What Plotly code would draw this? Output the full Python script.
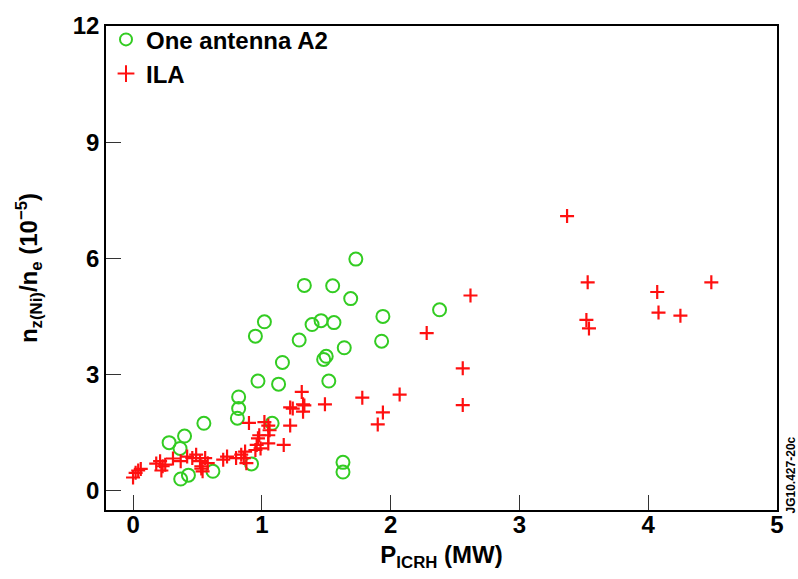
import plotly.graph_objects as go

a2_x = [1.73, 1.33, 1.55, 1.69, 1.94, 1.02, 1.46, 1.39, 1.56, 0.95, 1.29, 1.93, 1.64,
        1.50, 1.48, 1.16, 0.97, 1.13, 1.52, 0.82, 0.82, 2.38, 0.81, 0.55, 1.08, 0.40,
        0.28, 0.365, 0.92, 0.62, 0.43, 0.37, 1.63, 1.63]
a2_y = [5.98, 5.30, 5.29, 4.96, 4.50, 4.36, 4.39, 4.29, 4.34, 3.99, 3.89, 3.86, 3.69,
        3.47, 3.39, 3.31, 2.83, 2.75, 2.83, 2.42, 2.12, 4.67, 1.87, 1.74, 1.74, 1.41,
        1.24, 1.09, 0.69, 0.50, 0.40, 0.30, 0.73, 0.48]

ila_x = [0.00, 0.02, 0.04, 0.06, 0.18, 0.21, 0.23, 0.22, 0.25, 0.31, 0.37, 0.42, 0.46,
         0.49, 0.52, 0.53, 0.54, 0.56, 0.58, 0.53, 0.70, 0.73, 0.80, 0.84, 0.87, 0.86,
         0.88, 0.95, 0.96, 0.97, 0.98, 0.99, 1.05, 1.05, 1.06, 1.02, 1.05, 0.90, 1.17,
         1.22, 1.22, 1.24, 1.32, 1.32, 1.33, 1.31, 1.49, 1.78, 1.94, 1.90, 2.07, 2.28,
         2.62, 2.56, 2.56, 3.37, 3.53, 3.52, 3.54, 4.07, 4.08, 4.25, 4.49]
ila_y = [0.34, 0.46, 0.52, 0.56, 0.70, 0.76, 0.63, 0.52, 0.67, 0.83, 0.76, 0.88, 0.84,
         0.93, 0.76, 0.63, 0.50, 0.84, 0.71, 0.57, 0.80, 0.88, 0.84, 0.93, 1.01, 0.84,
         0.71, 1.05, 1.18, 1.35, 1.43, 1.09, 1.22, 1.43, 1.56, 1.77, 1.68, 1.75, 1.18,
         1.68, 2.15, 2.12, 2.04, 2.23, 2.20, 2.55, 2.23, 2.40, 2.02, 1.71, 2.48, 4.07,
         5.04, 3.16, 2.21, 7.09, 5.38, 4.41, 4.19, 5.13, 4.60, 4.52, 5.38]

x_ticks = [0, 1, 2, 3, 4, 5]
y_ticks = [0, 3, 6, 9, 12]

FONT = "Liberation Sans"
FS = 24

fig = go.Figure()
fig.add_trace(go.Scatter(
    x=a2_x, y=a2_y, mode="markers", name="One antenna A2",
    marker=dict(symbol="circle-open", size=13, color="#33cc22",
                line=dict(width=2, color="#33cc22")),
))
fig.add_trace(go.Scatter(
    x=ila_x, y=ila_y, mode="markers", name="ILA",
    marker=dict(symbol="cross-thin-open", size=10, color="#ff1010",
                line=dict(width=2.2, color="#ff1010")),
))

axis_common = dict(
    showgrid=False, zeroline=False, showline=True, linecolor="black", linewidth=1.5,
    mirror=True, ticks="inside", ticklen=15, tickwidth=1.2, tickcolor="#333",
    tickfont=dict(family=FONT, size=FS, color="black", weight="bold"),
)

fig.update_layout(
    width=798, height=579,
    margin=dict(l=106, r=21, t=15, b=69),
    paper_bgcolor="white", plot_bgcolor="white",
    showlegend=True,
    legend=dict(x=0.0, y=1.018, xanchor="left", yanchor="top",
                bgcolor="rgba(0,0,0,0)",
                font=dict(family=FONT, size=FS, color="black", weight="bold"),
                itemsizing="constant", tracegroupgap=0),
    xaxis=dict(range=[-0.21, 5.0], tickvals=x_ticks, ticklabelstandoff=-8,
               title=dict(text="P<sub>ICRH</sub> (MW)", standoff=10,
                          font=dict(family=FONT, size=FS, color="black", weight="bold")),
               **axis_common),
    yaxis=dict(range=[-0.5, 12.0], tickvals=y_ticks,
               title=dict(text="n<sub>z(Ni)</sub>/n<sub>e</sub> (10<sup>\u22125</sup>)", standoff=28,
                          font=dict(family=FONT, size=FS, color="black", weight="bold")),
               **axis_common),
)

fig.add_annotation(
    text="JG10.427-20c", xref="paper", yref="paper", x=1.0, y=0.0,
    xanchor="left", yanchor="bottom", xshift=4, yshift=-6, textangle=-90, showarrow=False,
    font=dict(family=FONT, size=12, color="black", weight="bold"),
)

fig.write_html("out.html")
